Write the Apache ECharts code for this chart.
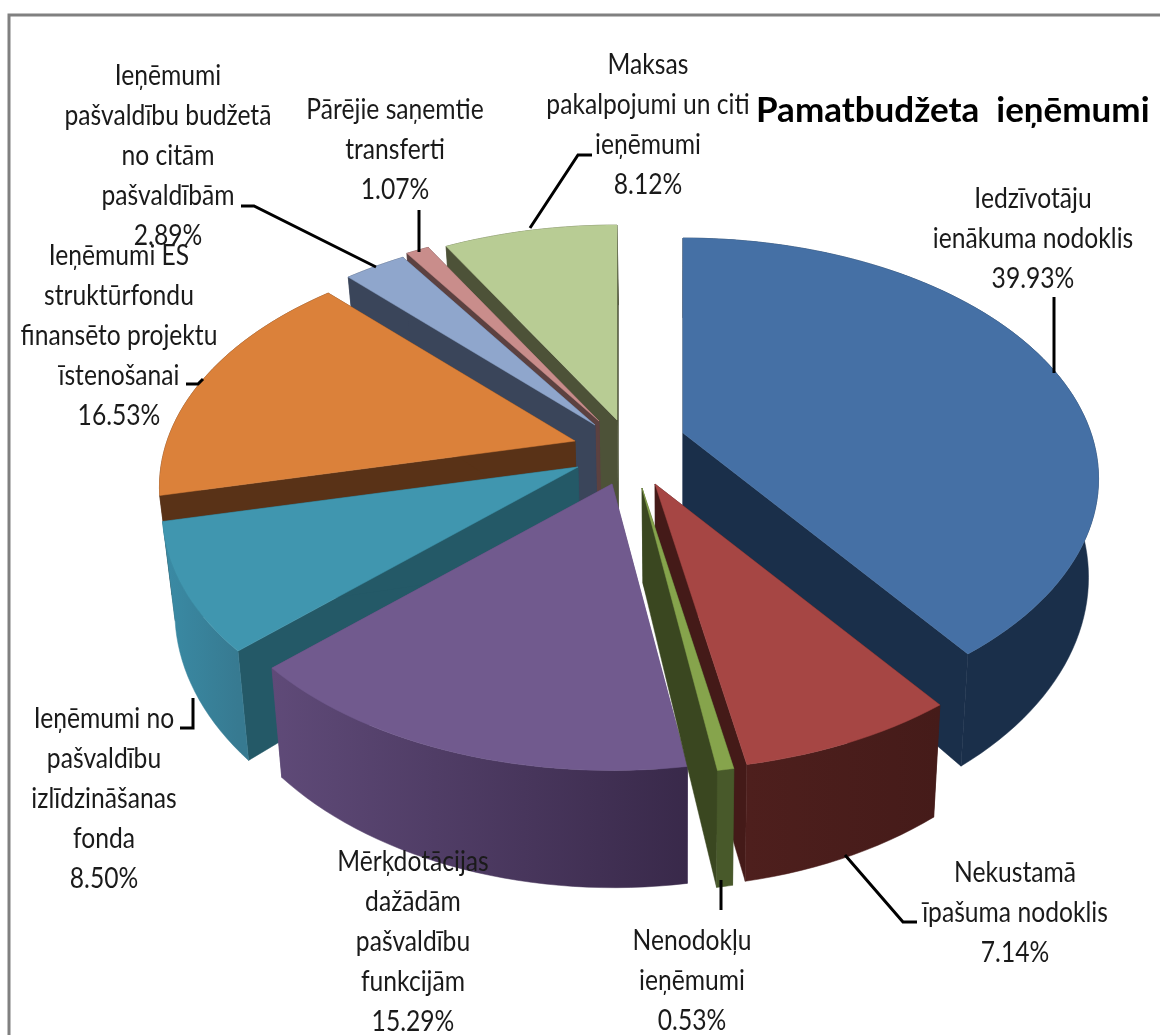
<!DOCTYPE html>
<html>
<head>
<meta charset="utf-8">
<title>Pamatbudžeta ieņēmumi</title>
<script src="https://cdn.jsdelivr.net/npm/echarts@6/dist/echarts.min.js"></script>
<style>
  html, body { margin: 0; padding: 0; background: #fff; }
  #main { width: 1160px; height: 1035px; }
</style>
</head>
<body>
<div id="main"></div>
<script>
// data, clockwise from 12 o'clock
const categories = [
  'Iedzīvotāju\nienākuma nodoklis',
  'Nekustamā\nīpašuma nodoklis',
  'Nenodokļu\nieņēmumi',
  'Mērķdotācijas\ndažādām\npašvaldību\nfunkcijām',
  'Ieņēmumi no\npašvaldību\nizlīdzināšanas\nfonda',
  'Ieņēmumi ES\nstruktūrfondu\nfinansēto projektu\nīstenošanai',
  'Ieņēmumi\npašvaldību budžetā\nno citām\npašvaldībām',
  'Pārējie saņemtie\ntransferti',
  'Maksas\npakalpojumi un citi\nieņēmumi'
];
const values = [39.93, 7.14, 0.53, 15.29, 8.50, 16.53, 2.89, 1.07, 8.12];

// look of each slice
const topColors = ['#4570a5', '#a64644', '#86a44c', '#715a8e', '#4096af', '#db813a', '#8fa6cc', '#c98d8b', '#b8cc94'];
const cutColors = ['#1a2f4a', '#441a18', '#3a4720', '#5d4877', '#245967', '#593217', '#3a455a', '#5c4140', '#4d5238'];
const rimColors = [
  ['#1a2f4a', '#1a2f4a'], ['#4e1f1d', '#451b19'], ['#48592a', '#48592a'],
  ['#5f4a78', '#39294a'], ['#3a8ba5', '#377a91'], ['#593217', '#593217'],
  ['#3a455a', '#3a455a'], ['#5c4140', '#5c4140'], ['#4d5238', '#4d5238']
];

// where each slice's tip sits after being pulled out, pixels
const tips = [[683, 433], [655, 484], [642, 488], [612, 484], [578, 467], [575, 441], [595, 425], [599, 421], [617, 420]];
// back to front
const paintOrder = [8, 7, 6, 0, 5, 4, 3, 1, 2];

// label anchors: centre x, first line y
const labelPos = [[1033, 199], [1015, 873], [692, 941], [413, 862], [104, 719], [119, 256], [168, 76], [395, 110], [648, 65]];
const leaderLines = [
  [[1054, 297], [1054, 373]],
  [[845, 855], [903, 922], [917, 922]],
  [[721, 880], [721, 910]],
  [[193, 698], [193, 728], [180, 728]],
  [[203, 379], [198, 384], [186, 384]],
  [[241, 206], [254, 206], [376, 267]],
  [[419, 210], [419, 252]],
  [[530, 228], [578, 155], [592, 155]]
];

// fake 3d projection of the pie plane
const RX = 408, RY = 232, PERSP = 0.19, DEPTH = 95, VANISH_X = 680, VANISH_K = 0.024;

const total = values.reduce((a, b) => a + b, 0);
let run = 0;
const slices = values.map((v, i) => {
  const start = run / total * Math.PI * 2;
  run += v;
  return { i, start, end: run / total * Math.PI * 2 };
});

function topPoint(tip, ang, r) {
  const u = Math.sin(ang) * r, v = -Math.cos(ang) * r;
  const w = 1 - PERSP * v;
  return [tip[0] + RX * u / w, tip[1] + RY * v / w, w];
}
function lower(p) {
  return [p[0] + (VANISH_X - p[0]) * VANISH_K, p[1] + DEPTH / p[2]];
}

function renderSlice(params, api) {
  const s = slices[api.value(0)];
  const tip = tips[s.i];
  const arc = [];
  const steps = Math.max(4, Math.ceil((s.end - s.start) / 0.03));
  for (let k = 0; k <= steps; k++) {
    arc.push(topPoint(tip, s.start + (s.end - s.start) * k / steps, 1));
  }
  const apex = [tip[0], tip[1], 1];
  const apexLow = lower(apex);
  const arcLow = arc.map(lower);
  const xs = arc.map(p => p[0]);
  const rim = {
    type: 'linear', global: true,
    x: Math.min(...xs), y: 0, x2: Math.max(...xs), y2: 0,
    colorStops: [{ offset: 0, color: rimColors[s.i][0] }, { offset: 1, color: rimColors[s.i][1] }]
  };
  const poly = (points, fill) => ({
    type: 'polygon',
    shape: { points: points.map(p => [p[0], p[1]]) },
    style: { fill: fill, stroke: fill, lineWidth: 0.5 }
  });
  return {
    type: 'group',
    children: [
      poly([apex, arc[0], arcLow[0], apexLow], cutColors[s.i]),
      poly([apex, arc[arc.length - 1], arcLow[arcLow.length - 1], apexLow], cutColors[s.i]),
      poly(arc.concat(arcLow.slice().reverse()), rim),
      poly([apex].concat(arc), topColors[s.i])
    ]
  };
}

// real text, squeezed a little like the stretched original
const labelFont = '29px Lato, "Noto Sans", sans-serif';
const labels = categories.map((name, i) => ({
  type: 'text',
  x: labelPos[i][0],
  y: labelPos[i][1] - 20,
  z: 100,
  scaleX: 0.85,
  silent: true,
  style: {
    text: name + '\n' + values[i].toFixed(2) + '%',
    font: labelFont,
    fill: '#1a1a1a',
    align: 'center',
    verticalAlign: 'top',
    lineHeight: 40
  }
}));
const lines = leaderLines.map(points => ({
  type: 'polyline',
  silent: true,
  z: 100,
  shape: { points: points },
  style: { stroke: '#000', lineWidth: 3, fill: null }
}));

const myChart = echarts.init(document.getElementById('main'), null, { renderer: 'canvas' });
myChart.setOption({
  animation: false,
  backgroundColor: '#fff',
  title: {
    text: 'Pamatbudžeta  ieņēmumi',
    left: 756,
    top: 93,
    padding: 0,
    textStyle: { fontFamily: 'Lato, "Noto Sans", sans-serif', fontWeight: 'bold', fontSize: 35, color: '#000' }
  },
  graphic: [
    {
      type: 'polyline',
      silent: true,
      shape: { points: [[9, 1035], [9, 15], [1160, 15]] },
      style: { stroke: '#808080', lineWidth: 3, fill: null }
    }
  ].concat(lines, labels),
  xAxis: { show: false },
  yAxis: { show: false },
  series: [{
    type: 'custom',
    coordinateSystem: 'none',
    silent: true,
    renderItem: renderSlice,
    data: paintOrder.map(i => [i, values[i]])
  }]
});
</script>
</body>
</html>
